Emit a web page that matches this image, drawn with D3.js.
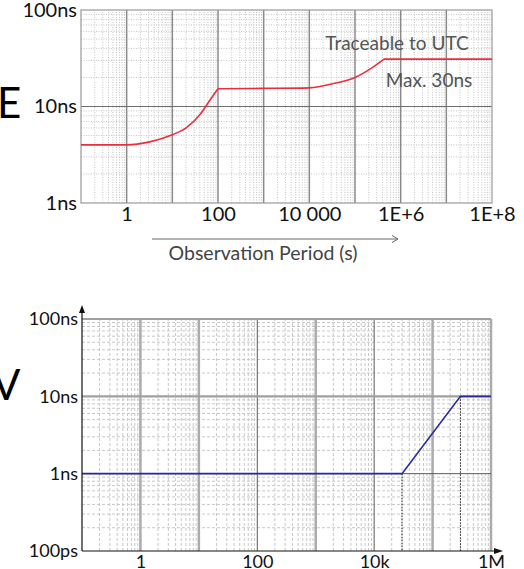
<!DOCTYPE html>
<html>
<head>
<meta charset="utf-8">
<script src="https://cdn.jsdelivr.net/npm/d3@7"></script>
<style>
body { margin: 0; background: #fff; }
svg { display: block; font-family: Lato, "Open Sans", sans-serif; }
</style>
</head>
<body>
<svg id="svg1" width="524" height="569"></svg>
<script>
// top chart: red curve, time deviation (ns) vs observation period (s)
var topPeriods   = [0.1, 1, 3.2, 10, 20, 40, 63, 100, 1000, 10000, 36000, 100000, 230000, 430000, 1e8];
var topDeviation = [4, 4, 4.3, 5.1, 6, 8.2, 11.2, 15.3, 15.4, 15.6, 17.4, 20, 25, 31, 31];
var topCorners   = [100, 430000];   // periods where the curve has a sharp corner
var topXTicks    = [1, 100, 10000, 1e6, 1e8];
var topXLabels   = ["1", "100", "10 000", "1E+6", "1E+8"];
var topYTicks    = [1, 10, 100];
var topYLabels   = ["1ns", "10ns", "100ns"];
var topNotes     = ["Traceable to UTC", "Max. 30ns"];
var topXTitle    = "Observation Period (s)";

// bottom chart: blue line
var bottomPeriods   = [0.1, 30000, 300000, 1e6];
var bottomDeviation = [1, 1, 10, 10];
var bottomXTicks    = [1, 100, 10000, 1e6];
var bottomXLabels   = ["1", "100", "10k", "1M"];
var bottomYTicks    = [0.1, 1, 10, 100];
var bottomYLabels   = ["100ps", "1ns", "10ns", "100ns"];

var svg = d3.select("#svg1");

var params = {
  "top":    { "x0": 81, "x1": 492, "y0": 10,  "y1": 203, "domain": [0.1, 1e8] },
  "bottom": { "x0": 82, "x1": 491, "y0": 319, "y1": 551, "domain": [0.1, 1e6] }
};

var translate = function(x, y) { return "translate(" + x + "," + y + ")"; };

// positions of the log minor grid (2..9 in every decade)
var minorValues = function(lo, hi) {
  var out = [];
  for (var e = Math.round(Math.log10(lo)); e < Math.round(Math.log10(hi)); e++) {
    for (var k = 2; k <= 9; k++) out.push(k * Math.pow(10, e));
  }
  return out;
};
var majorValues = function(lo, hi) {
  var out = [];
  for (var e = Math.round(Math.log10(lo)); e <= Math.round(Math.log10(hi)); e++) out.push(Math.pow(10, e));
  return out;
};

var vLines = function(g, x, y, values, stroke, width, dash) {
  g.append("g").selectAll("line").data(values).enter().append("line")
    .attr("x1", function(d) { return x(d); }).attr("x2", function(d) { return x(d); })
    .attr("y1", y.range()[0]).attr("y2", y.range()[1])
    .attr("stroke", stroke).attr("stroke-width", width)
    .attr("stroke-dasharray", dash || null);
};
var hLines = function(g, x, y, values, stroke, width, dash) {
  g.append("g").selectAll("line").data(values).enter().append("line")
    .attr("y1", function(d) { return y(d); }).attr("y2", function(d) { return y(d); })
    .attr("x1", x.range()[0]).attr("x2", x.range()[1])
    .attr("stroke", stroke).attr("stroke-width", width)
    .attr("stroke-dasharray", dash || null);
};

var styleAxis = function(g, size) {
  g.select(".domain").remove();
  g.selectAll("text").attr("font-size", size).attr("font-family", "Lato, 'Open Sans', sans-serif").attr("fill", "#111");
};

createTopChart = function() {
  var p = params.top;
  var x = d3.scaleLog().domain(p.domain).range([p.x0, p.x1]);
  var y = d3.scaleLog().domain([1, 100]).range([p.y1, p.y0]);
  var g = svg.append("g").attr("id", "top");

  vLines(g, x, y, minorValues(0.1, 1e8), "#c4c4c4", 1, "1,1.5");
  hLines(g, x, y, minorValues(1, 100), "#c4c4c4", 1, "1,1.5");
  vLines(g, x, y, majorValues(1, 1e7), "#8a8a8a", 1.5);
  hLines(g, x, y, [10], "#6e6e6e", 1.2);

  g.append("rect").attr("x", p.x0).attr("y", p.y0)
    .attr("width", p.x1 - p.x0).attr("height", p.y1 - p.y0)
    .attr("fill", "none").attr("stroke", "#999").attr("stroke-width", 1.2);

  // split the curve at its corners, smooth in between
  var pts = topPeriods.map(function(d, i) { return [d, topDeviation[i]]; });
  var cuts = [p.domain[0]].concat(topCorners).concat([p.domain[1]]);
  var line = d3.line()
    .x(function(d) { return x(d[0]); })
    .y(function(d) { return y(d[1]); })
    .curve(d3.curveMonotoneX);
  for (var i = 0; i < cuts.length - 1; i++) {
    var seg = pts.filter(function(d) { return d[0] >= cuts[i] && d[0] <= cuts[i + 1]; });
    g.append("path").attr("d", line(seg))
      .attr("fill", "none").attr("stroke", "#e8303c").attr("stroke-width", 1.6);
  }

  var gx = g.append("g").attr("transform", translate(0, p.y1))
    .call(d3.axisBottom(x).tickValues(topXTicks).tickSize(0).tickPadding(4)
      .tickFormat(function(d, i) { return topXLabels[i]; }));
  styleAxis(gx, 20);

  var gy = g.append("g").attr("transform", translate(p.x0, 0))
    .call(d3.axisLeft(y).tickValues(topYTicks).tickSize(0).tickPadding(4)
      .tickFormat(function(d, i) { return topYLabels[i]; }));
  styleAxis(gy, 20);

  g.append("text").attr("x", 397).attr("y", 50).attr("text-anchor", "middle")
    .attr("font-size", 19).attr("fill", "#555").text(topNotes[0]);
  g.append("text").attr("x", 429).attr("y", 87).attr("text-anchor", "middle")
    .attr("font-size", 19).attr("fill", "#555").text(topNotes[1]);

  // arrow under the axis
  g.append("line").attr("x1", 152).attr("x2", 398).attr("y1", 239).attr("y2", 239)
    .attr("stroke", "#666").attr("stroke-width", 1);
  g.append("path").attr("d", "M392,235.5L398,239L392,242.5")
    .attr("fill", "none").attr("stroke", "#666").attr("stroke-width", 1);
  g.append("text").attr("x", 263).attr("y", 260).attr("text-anchor", "middle")
    .attr("font-size", 19.5).attr("fill", "#444").text(topXTitle);

  g.append("text").attr("x", -3).attr("y", 118).attr("font-size", 42).attr("fill", "#000").text("E");
};

createBottomChart = function() {
  var p = params.bottom;
  var x = d3.scaleLog().domain(p.domain).range([p.x0, p.x1]);
  var y = d3.scaleLog().domain([0.1, 100]).range([p.y1, p.y0]);
  var g = svg.append("g").attr("id", "bottom");

  vLines(g, x, y, minorValues(0.1, 1e6), "#c8c8c8", 1, "3,2");
  hLines(g, x, y, minorValues(0.1, 100), "#c8c8c8", 1, "3,2");
  vLines(g, x, y, [1, 10, 1000, 100000, 1e6], "#ababab", 2.5);
  vLines(g, x, y, [100, 10000], "#5a5a5a", 1);
  hLines(g, x, y, [100, 10], "#a0a0a0", 2.2);
  hLines(g, x, y, [1], "#5a5a5a", 1);

  // dotted markers under the corners of the line
  g.append("g").selectAll("line").data([1, 2]).enter().append("line")
    .attr("x1", function(i) { return x(bottomPeriods[i]); })
    .attr("x2", function(i) { return x(bottomPeriods[i]); })
    .attr("y1", function(i) { return y(bottomDeviation[i]); })
    .attr("y2", p.y1)
    .attr("stroke", "#222").attr("stroke-width", 1).attr("stroke-dasharray", "1.5,1.5");

  var line = d3.line()
    .x(function(d, i) { return x(d); })
    .y(function(d, i) { return y(bottomDeviation[i]); });
  g.append("path").attr("d", line(bottomPeriods))
    .attr("fill", "none").attr("stroke", "#2a2aa0").attr("stroke-width", 1.6);

  // axes lines with arrow heads
  g.append("line").attr("x1", p.x0).attr("x2", p.x0).attr("y1", p.y1).attr("y2", 309)
    .attr("stroke", "#111").attr("stroke-width", 1.2);
  g.append("path").attr("d", "M" + (p.x0 - 3) + ",313L" + p.x0 + ",305L" + (p.x0 + 3) + ",313Z").attr("fill", "#111");
  g.append("line").attr("x1", p.x0).attr("x2", 497).attr("y1", p.y1).attr("y2", p.y1)
    .attr("stroke", "#111").attr("stroke-width", 1.2);
  g.append("path").attr("d", "M494," + (p.y1 - 3) + "L503," + p.y1 + "L494," + (p.y1 + 3) + "Z").attr("fill", "#111");

  var gx = g.append("g").attr("transform", translate(0, p.y1))
    .call(d3.axisBottom(x).tickValues(bottomXTicks).tickSize(0).tickPadding(4)
      .tickFormat(function(d, i) { return bottomXLabels[i]; }));
  styleAxis(gx, 18);

  var gy = g.append("g").attr("transform", translate(p.x0, 0))
    .call(d3.axisLeft(y).tickValues(bottomYTicks).tickSize(0).tickPadding(4)
      .tickFormat(function(d, i) { return bottomYLabels[i]; }));
  styleAxis(gy, 18);

  g.append("text").attr("x", -8).attr("y", 400).attr("font-size", 42).attr("fill", "#000").text("V");
};

createTopChart();
createBottomChart();
</script>
</body>
</html>
